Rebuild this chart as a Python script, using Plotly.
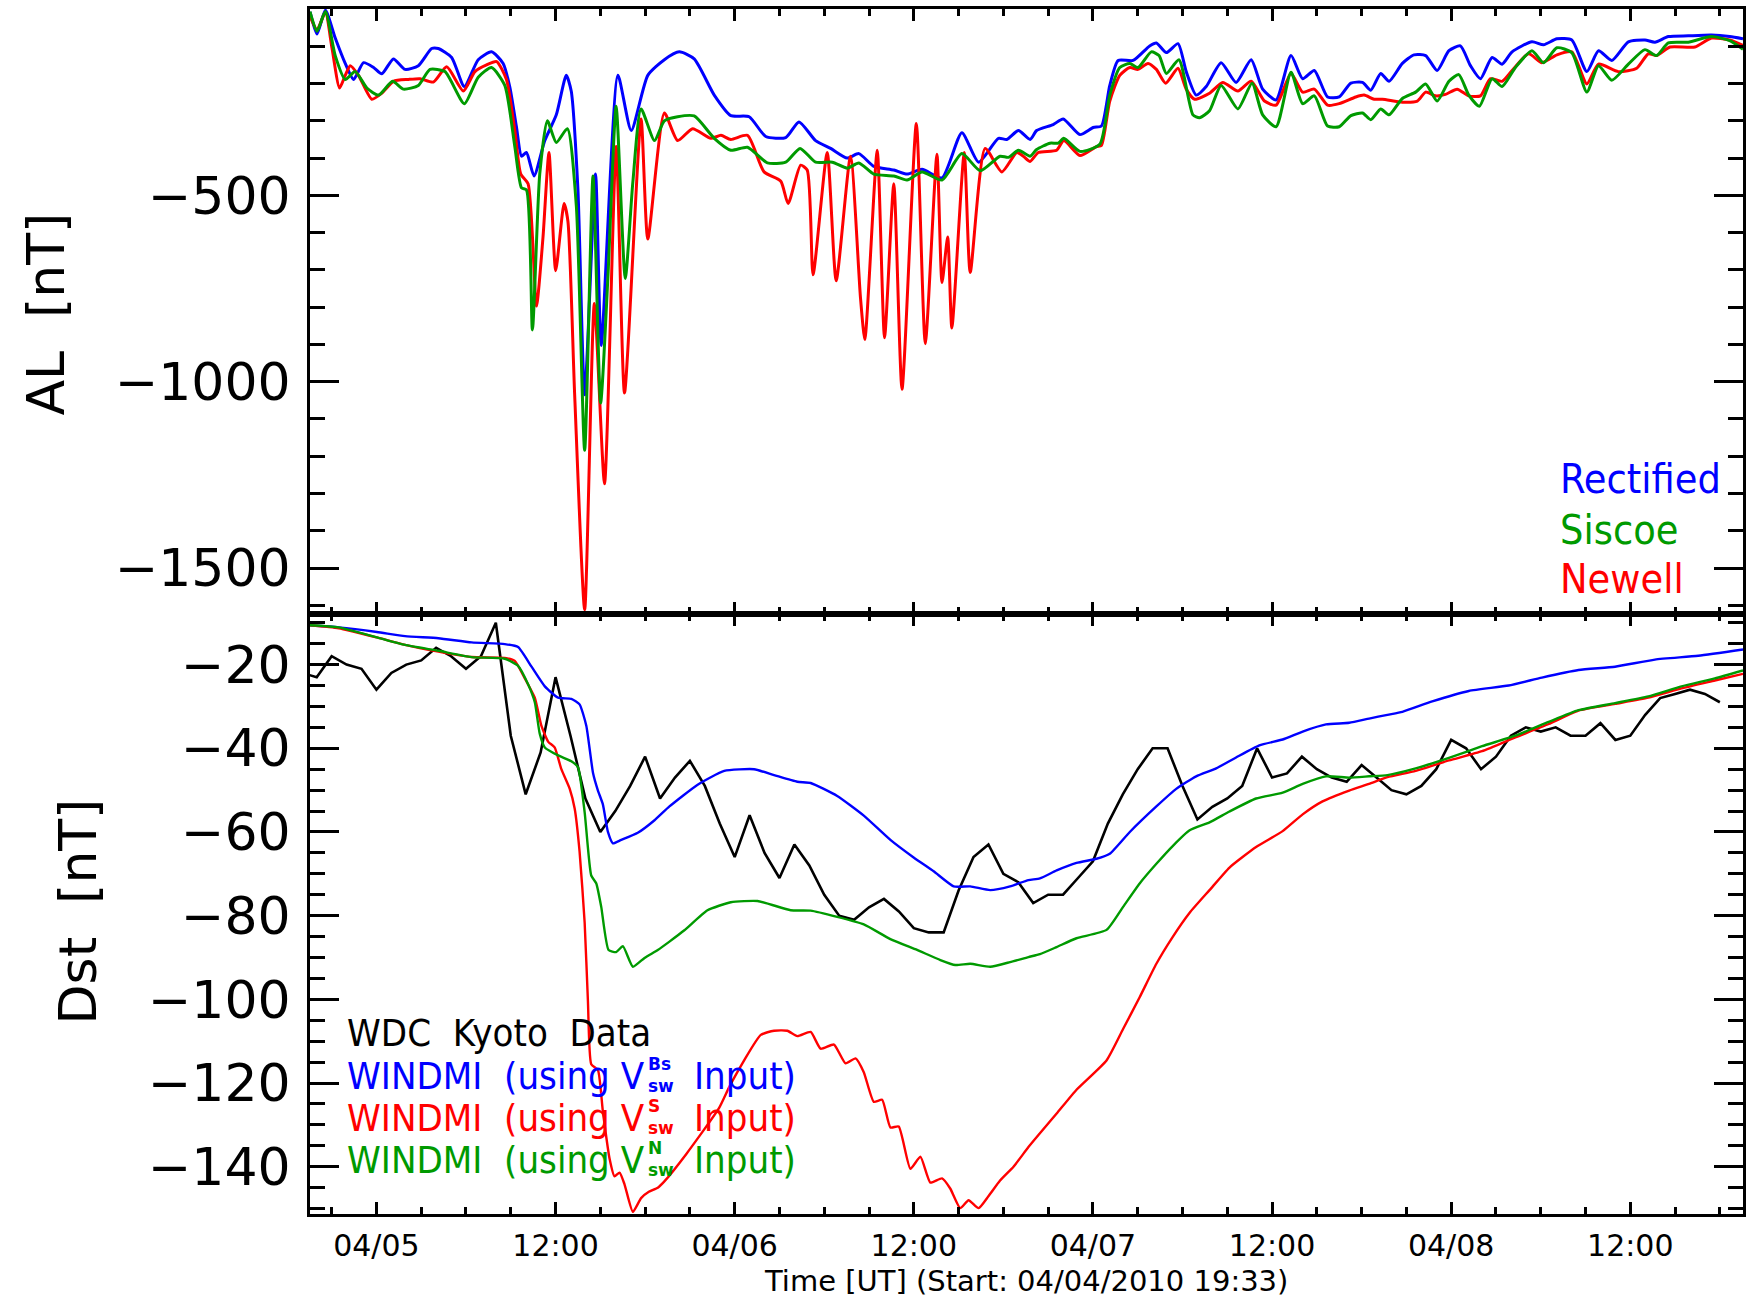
import numpy as np
import pandas as pd
import plotly.graph_objects as go

# ---------------- data (hours after start 2010-04-04 19:33 UT) ----------------
START = "2010-04-04 19:33"

al_rect_t = [0.0, 0.47, 1.03, 1.69, 2.36, 2.92, 3.59, 4.26, 4.81, 5.59, 6.37, 7.26, 8.15, 8.6, 9.49, 10.34,
             11.27, 12.16, 12.94, 13.39, 13.83, 14.17, 14.5, 15.01, 15.73, 16.5, 17.17, 17.5, 17.95, 18.4,
             19.13, 19.51, 20.63, 21.52, 22.63, 23.74, 24.74, 25.74, 27.08, 28.19, 29.42, 30.53, 31.87,
             32.76, 33.87, 34.88, 35.99, 36.77, 37.77, 39.11, 40.0, 41.0, 42.34, 43.67, 44.79, 46.12, 46.68,
             47.46, 48.24, 48.68, 49.79, 50.46, 51.58, 52.47, 53.02, 53.58, 54.14, 55.14, 56.25, 56.7, 57.37,
             58.15, 58.7, 59.37, 60.04, 61.04, 62.04, 63.05, 63.82, 64.72, 65.72, 66.5, 67.28, 68.17, 68.95,
             69.73, 70.51, 71.06, 71.73, 72.29, 73.18, 73.96, 74.74, 75.51, 76.3, 77.07, 77.74, 78.41, 79.19,
             79.86, 80.53, 81.86, 82.64, 83.53, 84.53, 85.54, 86.32, 87.21, 88.32, 89.43, 90.1, 91.0, 92.33,
             93.89, 95.11, 96.0]
al_rect = [-8, -67, -3, -78, -146, -189, -144, -157, -174, -134, -162, -152, -106, -106, -130, -208,
           -136, -115, -146, -210, -316, -395, -385, -448, -353, -284, -178, -220, -485, -1035,
           -443, -903, -178, -326, -178, -136, -115, -134, -231, -286, -289, -342, -345,
           -303, -353, -374, -400, -388, -422, -432, -443, -430, -453, -332, -411, -347, -350,
           -326, -350, -326, -310, -295, -337, -318, -314, -205, -138, -138, -99, -91, -117,
           -93, -168, -231, -208, -144, -197, -136, -215, -244, -125, -187, -165, -236, -236,
           -199, -197, -218, -173, -194, -146, -123, -125, -165, -112, -99, -152, -187, -130,
           -148, -115, -88, -96, -80, -83, -168, -112, -138, -88, -83, -89, -74, -72,
           -70, -74, -80]

al_newell_t = [0.0, 0.47, 1.03, 1.47, 1.98, 2.36, 2.7, 3.25, 4.14, 4.81, 5.59, 6.59, 7.37, 8.26, 9.16, 10.27,
               11.05, 11.83, 12.5, 13.16, 13.72, 14.12, 14.61, 15.17, 15.61, 16.01, 16.46, 17.02, 17.28,
               17.73, 18.4, 19.05, 19.73, 20.51, 21.07, 22.18, 22.63, 23.74, 24.63, 25.63, 26.86, 27.53,
               28.19, 29.31, 30.42, 31.54, 32.03, 32.87, 33.31, 33.7, 34.65, 35.25, 36.21, 36.88, 37.17,
               38.0, 38.49, 39.11, 39.66, 40.62, 41.22, 42.0, 42.34, 42.72, 43.0, 43.83, 44.23, 45.23,
               46.35, 47.35, 47.79, 48.24, 48.79, 50.02, 50.5, 51.58, 52.69, 53.02, 53.58, 54.25, 54.92,
               55.47, 56.14, 56.7, 57.32, 58.15, 58.7, 59.26, 60.26, 61.15, 62.16, 63.05, 63.94, 64.72,
               65.72, 66.5, 67.28, 68.17, 68.95, 70.06, 70.62, 71.29, 71.84, 73.18, 74.18, 74.74, 75.4,
               76.07, 76.85, 77.63, 78.41, 79.08, 79.86, 80.53, 81.64, 82.53, 83.53, 84.53, 85.54, 86.32,
               87.65, 88.88, 89.66, 90.21, 91.11, 92.78, 93.89, 95.11, 96.0]
al_newell = [-19, -56, -9, -104, -212, -178, -152, -178, -242, -226, -194, -189, -187, -196, -155, -220,
             -168, -150, -141, -189, -326, -443, -469, -797, -612, -385, -702, -522, -570,
             -1035, -1612, -790, -1274, -369, -1030, -295, -617, -279, -353, -321, -347, -339,
             -350, -339, -437, -462, -522, -419, -432, -713, -385, -729, -395, -776, -887,
             -379, -882, -469, -1020, -307, -898, -390, -734, -612, -856, -385, -707, -374,
             -437, -385, -395, -409, -385, -379, -353, -393, -369, -366, -247, -178, -157,
             -162, -146, -162, -199, -159, -215, -242, -226, -197, -220, -194, -247, -258,
             -173, -223, -215, -258, -254, -236, -231, -242, -242, -250, -247, -223, -233,
             -229, -215, -233, -233, -187, -194, -165, -120, -144, -123, -115, -201, -148,
             -168, -159, -120, -125, -102, -102, -78, -83, -98]

al_siscoe_t = [0.0, 0.47, 1.03, 1.69, 2.36, 3.03, 3.81, 4.59, 5.53, 6.26, 7.26, 8.04, 9.04, 10.34, 11.27,
               12.16, 13.05, 13.72, 14.17, 14.5, 14.9, 15.39, 15.9, 16.5, 17.24, 17.84, 18.4, 18.96, 19.47,
               19.96, 20.51, 21.12, 21.63, 22.18, 23.08, 23.74, 24.63, 25.74, 27.08, 28.19, 29.31, 30.64,
               31.87, 32.83, 33.87, 34.99, 35.99, 36.77, 37.77, 39.11, 40.0, 41.0, 42.34, 43.67, 44.9,
               46.23, 46.79, 47.46, 48.24, 48.68, 49.57, 50.13, 50.5, 51.58, 52.91, 53.58, 54.25, 54.92,
               55.47, 56.36, 56.88, 57.37, 58.21, 59.15, 59.59, 60.26, 61.04, 62.16, 63.11, 63.82, 64.72,
               65.72, 66.5, 67.28, 68.17, 68.95, 69.73, 70.51, 71.06, 71.73, 72.29, 73.18, 74.07, 74.74,
               75.51, 76.3, 76.96, 77.63, 78.34, 79.19, 79.86, 80.75, 81.86, 82.64, 83.53, 84.53, 85.54,
               86.32, 87.21, 88.32, 89.43, 90.21, 91.0, 92.33, 93.89, 95.11, 96.0]
al_siscoe = [-7, -60, -7, -125, -189, -168, -212, -231, -194, -215, -205, -162, -168, -254, -183,
             -157, -205, -369, -480, -485, -861, -443, -300, -358, -321, -527, -1184, -448, -1057,
             -718, -261, -723, -464, -268, -353, -300, -289, -287, -347, -379, -371, -413,
             -411, -374, -411, -411, -427, -413, -443, -448, -459, -437, -459, -388, -434,
             -395, -398, -379, -395, -377, -360, -360, -347, -382, -363, -231, -157, -146,
             -157, -115, -125, -173, -136, -284, -292, -273, -205, -268, -199, -284, -316,
             -170, -254, -233, -314, -316, -286, -279, -297, -268, -284, -240, -223, -201,
             -247, -194, -176, -231, -261, -187, -208, -157, -112, -144, -104, -117, -223,
             -152, -191, -148, -109, -125, -91, -89, -74, -85, -108]

dst_obs_t = [-0.55] + [0.45 + k for k in range(95)]
dst_obs = [-22,
           -23, -18, -20, -21, -26, -22, -20, -19, -16, -18, -21, -18, -10, -37, -51, -41, -23, -37, -52, -60,
           -55, -49, -42, -52, -47, -43, -49, -58, -66, -56, -65, -71, -63, -68, -75, -80, -81, -78, -76, -79,
           -83, -84, -84, -74, -66, -63, -70, -72, -77, -75, -75, -71, -67, -58, -51, -45, -40, -40, -49, -57,
           -54, -52, -49, -40, -47, -46, -42, -45, -47, -48, -44, -47, -50, -51, -49, -45, -38, -40, -45, -42,
           -37, -35, -36, -35, -37, -37, -34, -38, -37, -32, -28, -27, -26, -27, -29]

dst_bs_t = [0.0, 1.92, 4.48, 6.37, 8.6, 10.83, 13.05, 13.94, 14.84, 15.73, 16.62, 17.51, 18.06, 18.51, 18.96,
            19.29, 19.62, 19.96, 20.29, 20.85, 21.96, 23.08, 24.08, 25.97, 27.75, 29.75, 31.09, 32.65, 33.54,
            35.32, 37.1, 38.88, 40.44, 41.78, 43.12, 44.23, 45.57, 46.9, 48.13, 48.9, 50.02, 51.35, 52.69,
            53.58, 54.92, 56.7, 58.03, 59.37, 60.71, 62.04, 63.6, 65.16, 66.5, 68.06, 69.62, 70.95, 72.18,
            73.18, 75.18, 77.63, 80.3, 82.53, 84.98, 87.43, 90.1, 93.0, 96.0]
dst_bs = [-10.6, -11.1, -12.2, -13.2, -13.7, -14.7, -15.1, -15.8, -20.5, -25.2, -27.9, -28.2, -29.5, -34.6, -45.9,
          -50.1, -53.4, -60.0, -62.7, -61.9, -60.2, -57.2, -53.9, -48.7, -45.4, -45.0, -46.4, -48.0, -48.3,
          -51.4, -56.1, -61.9, -66.1, -69.4, -73.0, -73.0, -73.9, -73.0, -71.5, -71.1, -69.2, -67.4, -66.4,
          -65.2, -60.0, -53.9, -49.7, -46.7, -44.8, -42.2, -39.3, -37.9, -36.0, -34.3, -33.9, -32.9, -32.0,
          -31.3, -28.8, -26.3, -25.0, -23.1, -21.3, -20.5, -18.8, -17.9, -16.4]

dst_s_t = [0.0, 1.92, 4.48, 6.37, 8.6, 10.83, 13.05, 13.72, 14.39, 15.06, 15.5, 15.95, 16.39, 16.84, 17.4,
           17.73, 18.06, 18.4, 18.62, 18.84, 19.29, 19.62, 20.07, 20.4, 20.74, 21.07, 21.63, 22.18, 22.7,
           23.3, 23.74, 25.2, 27.4, 28.19, 30.2, 31.09, 31.98, 32.65, 33.54, 34.21, 35.1, 35.88, 36.55,
           37.1, 37.77, 38.33, 38.88, 39.44, 40.22, 40.89, 41.56, 42.34, 42.89, 43.56, 44.12, 44.79, 45.46,
           46.23, 47.13, 48.13, 48.9, 50.02, 51.35, 53.36, 54.47, 55.58, 56.7, 57.81, 58.93, 60.26, 61.6,
           63.38, 65.16, 66.5, 67.83, 69.62, 70.95, 72.18, 74.07, 76.3, 78.52, 80.75, 82.98, 84.98, 87.43,
           89.66, 91.88, 94.11, 96.0]
dst_s = [-10.6, -11.3, -13.5, -15.3, -16.9, -18.2, -18.4, -19.1, -23.3, -27.9, -34.6, -38.4, -39.8, -45.0, -49.7,
         -54.4, -64.7, -81.7, -100.5, -115.5, -116.9, -126.8, -138.1, -142.3, -141.4, -144.2, -150.8, -147.5, -146.0,
         -145.0, -143.5, -137.0, -126.0, -120.2, -108.5, -107.5, -107.5, -108.8, -107.8, -111.8, -110.8, -115.3, -114.1,
         -117.4, -124.5, -124.0, -130.6, -130.4, -140.5, -137.6, -143.8, -142.8, -145.2, -149.9, -148.0, -149.9, -147.0,
         -143.3, -140.0, -135.3, -132.0, -127.3, -121.6, -114.6, -107.1, -99.5, -91.5, -85.0, -79.3, -73.9, -68.5,
         -63.6, -59.8, -55.8, -52.7, -50.1, -48.5, -46.9, -45.4, -42.9, -40.7, -37.4, -34.2, -31.0, -29.4,
         -27.9, -25.7, -23.8, -22.2]

dst_n_t = [0.0, 1.92, 4.48, 6.37, 8.6, 10.83, 13.05, 13.94, 14.61, 15.06, 15.39, 15.73, 16.62, 17.51, 17.95,
           18.4, 18.84, 19.18, 19.51, 20.0, 20.51, 20.96, 21.63, 22.41, 23.3, 24.08, 25.08, 26.63, 28.19,
           29.98, 32.2, 33.54, 35.32, 37.1, 38.88, 40.67, 42.23, 43.23, 44.23, 45.57, 46.9, 48.13, 48.9,
           50.02, 51.35, 53.36, 54.47, 55.58, 56.7, 57.81, 58.93, 60.26, 61.6, 63.38, 65.16, 66.5, 68.06,
           69.62, 70.95, 72.18, 74.07, 76.3, 78.52, 80.75, 82.98, 84.98, 87.43, 89.66, 91.88, 94.11, 96.0]
dst_n = [-10.6, -11.1, -13.5, -15.3, -16.7, -18.2, -18.6, -20.3, -24.7, -29.0, -36.5, -39.8, -41.7, -43.1, -44.5,
         -55.3, -70.4, -72.3, -77.9, -88.2, -88.7, -87.3, -92.2, -90.1, -88.2, -86.2, -83.5, -78.7, -76.8,
         -76.5, -78.7, -78.8, -80.3, -82.1, -85.6, -88.2, -90.6, -91.8, -91.5, -92.2, -91.1, -89.9, -89.2,
         -87.5, -85.4, -83.4, -77.9, -72.3, -67.6, -63.3, -59.6, -57.7, -55.1, -52.0, -50.6, -48.5, -46.7,
         -47.0, -46.7, -46.4, -44.8, -42.3, -39.5, -37.0, -33.7, -30.9, -29.2, -27.6, -25.2, -23.3, -21.4]

x_tickvals = ["2010-04-05 00:00", "2010-04-05 12:00", "2010-04-06 00:00", "2010-04-06 12:00",
              "2010-04-07 00:00", "2010-04-07 12:00", "2010-04-08 00:00", "2010-04-08 12:00"]
x_ticktext = ["04/05", "12:00", "04/06", "12:00", "04/07", "12:00", "04/08", "12:00"]
al_tickvals = [-1500, -1000, -500]
al_ticktext = ["\u22121500", "\u22121000", "\u2212500"]
dst_tickvals = [-140, -120, -100, -80, -60, -40, -20]
dst_ticktext = ["\u2212140", "\u2212120", "\u2212100", "\u221280", "\u221260", "\u221240", "\u221220"]

# ---------------- helpers ----------------
start = pd.Timestamp(START)


def to_time(hours):
    return start + pd.to_timedelta(np.asarray(hours, dtype=float), unit="h")


BLUE = "#0000ff"
RED = "#ff0000"
GREEN = "#009a00"
BLACK = "#000000"
FONT = "DejaVu Sans"
COND = "DejaVu Sans Condensed, DejaVu Sans"
NB = "\u00a0"

fig = go.Figure()

# top panel: AL
for t, v, c in [(al_rect_t, al_rect, BLUE), (al_newell_t, al_newell, RED), (al_siscoe_t, al_siscoe, GREEN)]:
    fig.add_trace(go.Scatter(x=to_time(t), y=v, mode="lines", xaxis="x", yaxis="y",
                             line=dict(color=c, width=3, shape="spline", smoothing=0.6),
                             showlegend=False, hoverinfo="skip"))

# bottom panel: Dst
fig.add_trace(go.Scatter(x=to_time(dst_obs_t), y=dst_obs, mode="lines", xaxis="x2", yaxis="y2",
                         line=dict(color=BLACK, width=2.6), showlegend=False, hoverinfo="skip"))
for t, v, c in [(dst_bs_t, dst_bs, BLUE), (dst_s_t, dst_s, RED), (dst_n_t, dst_n, GREEN)]:
    fig.add_trace(go.Scatter(x=to_time(t), y=v, mode="lines", xaxis="x2", yaxis="y2",
                             line=dict(color=c, width=2.4, shape="spline", smoothing=0.5),
                             showlegend=False, hoverinfo="skip"))

x_range = [start, start + pd.Timedelta(hours=96)]
split = 0.4983

common_x = dict(type="date", range=x_range, tickmode="array", tickvals=x_tickvals, ticktext=x_ticktext,
                ticks="inside", ticklen=12, tickwidth=2.5, tickcolor=BLACK,
                minor=dict(dtick=3 * 3600 * 1000, tick0="2010-04-05 00:00", ticks="inside", ticklen=7,
                           tickwidth=2.5, tickcolor=BLACK, showgrid=False),
                showline=True, linewidth=3, linecolor=BLACK, mirror="allticks", showgrid=False,
                zeroline=False, tickfont=dict(family=FONT, size=30, color=BLACK))
common_y = dict(tickmode="array", ticks="inside", ticklen=29, tickwidth=2.5, tickcolor=BLACK,
                showline=True, linewidth=3, linecolor=BLACK, mirror="allticks", showgrid=False,
                zeroline=False, tickfont=dict(family=FONT, size=52, color=BLACK), ticklabelstandoff=6)

fig.update_layout(
    width=1750, height=1299,
    margin=dict(l=310, r=4, t=9, b=85, pad=0),
    paper_bgcolor="white", plot_bgcolor="white",
    xaxis=dict(common_x, domain=[0, 1], anchor="y", showticklabels=False),
    xaxis2=dict(common_x, domain=[0, 1], anchor="y2", matches="x", showticklabels=True,
                ticklabelstandoff=3),
    yaxis=dict(common_y, domain=[split, 1], anchor="x", range=[-1622, 0],
               tickvals=al_tickvals, ticktext=al_ticktext,
               minor=dict(dtick=100, ticks="inside", ticklen=15, tickwidth=2.5, tickcolor=BLACK, showgrid=False)),
    yaxis2=dict(common_y, domain=[0, split], anchor="x2", range=[-151.3, -7.8],
                tickvals=dst_tickvals, ticktext=dst_ticktext,
                minor=dict(dtick=5, ticks="inside", ticklen=15, tickwidth=2.5, tickcolor=BLACK, showgrid=False)),
)

W_PLOT = 1750 - 310 - 4
H_PLOT = 1299 - 9 - 85


def px_x(xp):
    return (xp - 310) / W_PLOT


def px_y(yp):
    return (1214 - yp) / H_PLOT


ann = []
ann.append(dict(text="AL" + NB + NB + "[nT]", x=px_x(45), y=px_y(314), textangle=-90,
                font=dict(family=FONT, size=52, color=BLACK)))
ann.append(dict(text="Dst" + NB + NB + "[nT]", x=px_x(78), y=px_y(911), textangle=-90,
                font=dict(family=FONT, size=52, color=BLACK)))
ann.append(dict(text="Time [UT] (Start: 04/04/2010 19:33)", x=px_x(1027), y=px_y(1281),
                font=dict(family=FONT, size=29, color=BLACK)))

for txt, col, yp in [("Rectified", BLUE, 479), ("Siscoe", GREEN, 530), ("Newell", RED, 579)]:
    ann.append(dict(text=txt, x=px_x(1561), y=px_y(yp), xanchor="left",
                    font=dict(family=COND, size=41, color=col)))

ann.append(dict(text="WDC" + NB + NB + "Kyoto" + NB + NB + "Data", x=px_x(345), y=px_y(1033),
                xanchor="left", font=dict(family=COND, size=38, color=BLACK)))
for sup, col, yp in [("Bs", BLUE, 1076), ("S", RED, 1118), ("N", GREEN, 1160)]:
    ann.append(dict(text="WINDMI" + NB + NB + "(using" + NB + "V", x=px_x(345), y=px_y(yp), xanchor="left",
                    font=dict(family=COND, size=38, color=col)))
    ann.append(dict(text="<b>%s</b><br><b>sw</b>" % sup, x=px_x(647), y=px_y(yp - 1), xanchor="left",
                    align="left", font=dict(family=FONT, size=17, color=col)))
    ann.append(dict(text="Input)", x=px_x(693), y=px_y(yp), xanchor="left",
                    font=dict(family=COND, size=38, color=col)))

for a in ann:
    a.update(xref="paper", yref="paper", showarrow=False)
    a.setdefault("xanchor", "center")
    a.setdefault("yanchor", "middle")
fig.update_layout(annotations=ann)

fig.write_html("out.html")
